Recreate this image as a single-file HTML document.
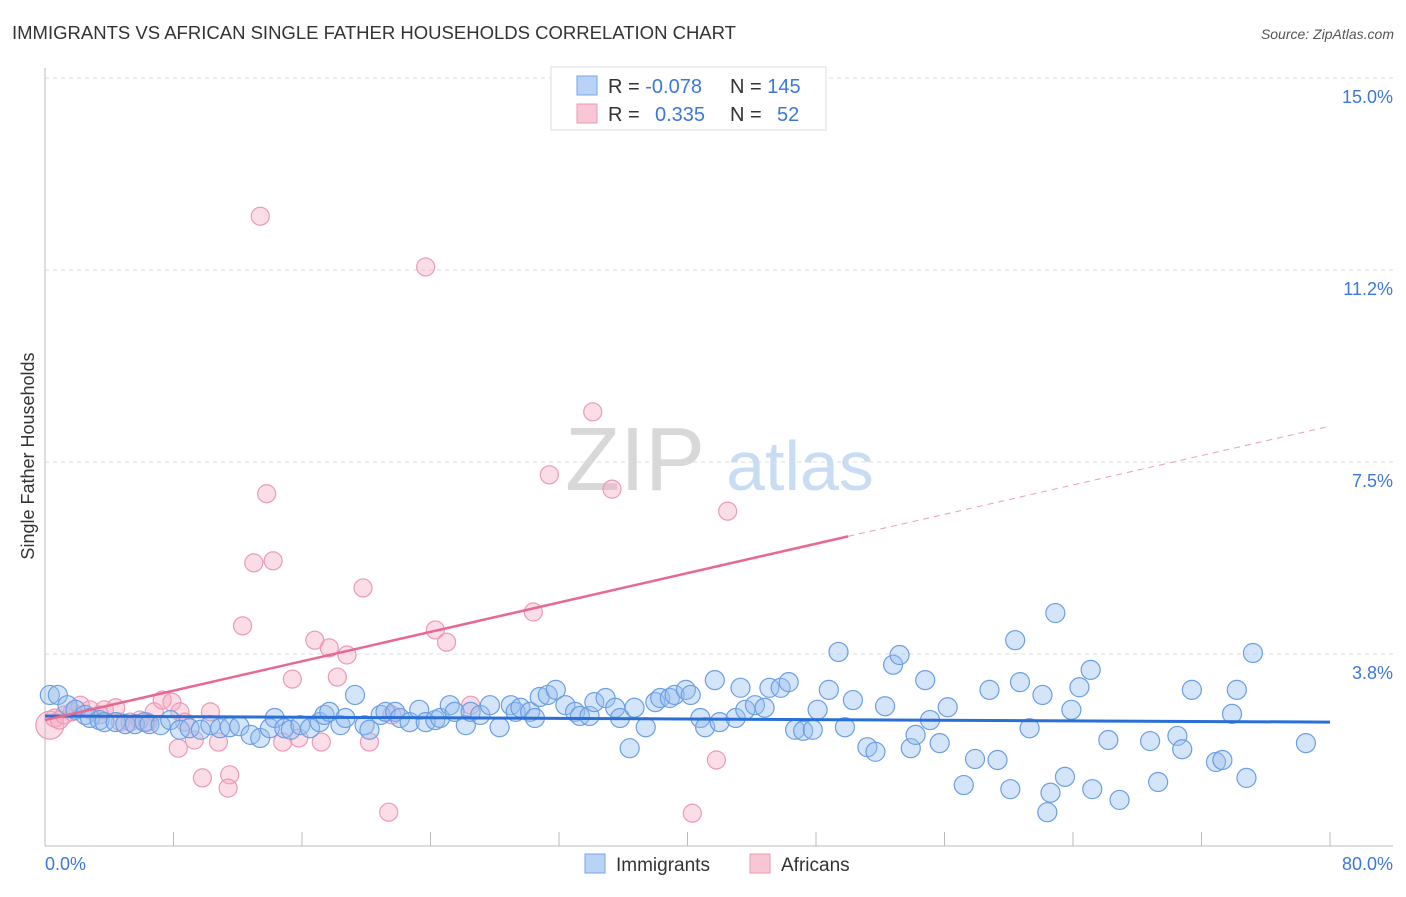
<!DOCTYPE html>
<html><head><meta charset="utf-8"><style>
body{margin:0;background:#fff;font-family:"Liberation Sans",sans-serif}
svg text{font-family:"Liberation Sans",sans-serif}
</style></head><body>
<svg id="chart" width="1406" height="892" xmlns="http://www.w3.org/2000/svg">
<text x="12" y="39" font-size="18" fill="#333" textLength="724" lengthAdjust="spacingAndGlyphs">IMMIGRANTS VS AFRICAN SINGLE FATHER HOUSEHOLDS CORRELATION CHART</text>
<text x="1394" y="39" font-size="14" fill="#555" font-style="italic" text-anchor="end">Source: ZipAtlas.com</text>
<g>
<text x="635" y="490" font-size="90" fill="#d8d8d8" text-anchor="middle" font-family="Liberation Serif">ZIP</text>
<text x="800" y="490" font-size="70" fill="#c8dcf4" text-anchor="middle">atlas</text>
</g>
<g id="grid"></g>
<g id="axes"></g>
<g id="marks"></g>
<text transform="translate(34,456) rotate(-90)" font-size="18" fill="#333" text-anchor="middle">Single Father Households</text>
<text x="45" y="870" font-size="18" fill="#3c78d8">0.0%</text>
<text x="1393" y="870" font-size="18" fill="#3c78d8" text-anchor="end">80.0%</text>
<g>
<rect x="551" y="67" width="275" height="63" fill="#fff" stroke="#ddd"/>
<rect x="577" y="76" width="20" height="19" fill="#b8d3f5" stroke="#7aa6e6"/>
<rect x="577" y="104" width="20" height="19" fill="#f9c6d5" stroke="#ec9ab4"/>
<text x="608" y="93" font-size="20" fill="#333">R = <tspan fill="#3c78d8">-0.078</tspan></text>
<text x="730" y="93" font-size="20" fill="#333">N = <tspan fill="#3c78d8">145</tspan></text>
<text x="608" y="121" font-size="20" fill="#333">R = <tspan fill="#3c78d8" x="655">0.335</tspan></text>
<text x="730" y="121" font-size="20" fill="#333">N = <tspan fill="#3c78d8" x="777">52</tspan></text>
</g>
<g>
<rect x="585" y="854" width="20" height="19" fill="#b8d3f5" stroke="#7aa6e6"/>
<text x="616" y="871" font-size="19" fill="#333">Immigrants</text>
<rect x="750" y="854" width="20" height="19" fill="#f9c6d5" stroke="#ec9ab4"/>
<text x="781" y="871" font-size="19" fill="#333">Africans</text>
</g>
</svg>
<script>
const yTicks=[3.75,7.5,11.25,15];
const yTickLabels=["3.8%","7.5%","11.2%","15.0%"];
const xTicks=[0,8,16,24,32,40,48,56,64,72,80];
const immX=[0.3,0.8,1.4,1.9,2.5,2.8,3.4,3.7,4.4,5.0,5.6,6.2,6.5,7.2,7.8,8.4,9.0,9.7,10.3,10.9,11.5,12.1,12.8,13.4,14.0,14.3,14.9,15.3,15.9,16.5,17.1,17.4,17.7,18.4,18.7,19.3,19.9,20.2,20.9,21.2,21.8,22.1,22.7,23.3,23.7,24.3,24.6,25.2,25.5,26.2,26.5,27.1,27.7,28.3,29.0,29.3,29.6,30.2,30.5,30.8,31.3,31.8,32.4,33.0,33.3,33.9,34.2,34.9,35.5,35.8,36.4,36.7,37.4,38.0,38.3,38.9,39.2,39.9,40.2,40.8,41.1,41.7,42.0,43.0,43.3,43.6,44.2,44.8,45.1,45.8,46.3,46.7,47.2,47.8,48.1,48.8,49.4,49.8,50.3,51.2,51.7,52.3,52.8,53.2,53.9,54.2,54.8,55.1,55.7,56.2,57.2,57.9,58.8,59.3,60.1,60.4,60.7,61.3,62.1,62.6,62.9,63.5,63.9,64.4,65.1,65.2,66.2,66.9,68.8,69.3,70.5,70.8,71.4,72.9,73.3,73.9,74.2,74.8,75.2,78.5,62.4];
const immY=[2.95,2.95,2.75,2.66,2.56,2.5,2.46,2.42,2.42,2.38,2.38,2.42,2.38,2.36,2.46,2.27,2.3,2.27,2.36,2.3,2.32,2.34,2.17,2.11,2.3,2.5,2.3,2.27,2.36,2.3,2.42,2.56,2.62,2.36,2.5,2.95,2.36,2.27,2.56,2.62,2.62,2.5,2.42,2.66,2.42,2.46,2.5,2.75,2.62,2.36,2.62,2.56,2.75,2.32,2.75,2.62,2.7,2.62,2.5,2.91,2.95,3.05,2.75,2.62,2.54,2.54,2.81,2.89,2.7,2.5,1.91,2.7,2.32,2.81,2.89,2.89,2.95,3.05,2.95,2.5,2.32,3.24,2.42,2.5,3.09,2.66,2.75,2.7,3.09,3.09,3.2,2.27,2.25,2.27,2.66,3.05,3.79,2.32,2.85,1.93,1.84,2.73,3.54,3.73,1.91,2.17,3.24,2.46,2.01,2.71,1.19,1.7,3.05,1.68,1.11,4.02,3.2,2.3,2.95,1.04,4.55,1.35,2.66,3.1,3.44,1.11,2.07,0.9,2.05,1.25,2.15,1.89,3.05,1.64,1.68,2.58,3.05,1.33,3.77,2.01,0.66];
const afrX=[0.3,0.6,0.9,1.2,1.7,2.2,2.8,3.4,3.7,4.4,4.7,5.3,5.9,6.4,6.8,7.3,7.9,8.4,8.7,8.3,9.3,9.8,10.3,10.8,11.5,11.4,12.3,13.0,13.4,13.8,14.2,14.8,15.4,15.8,16.8,17.2,17.7,18.2,18.8,19.8,20.2,21.4,21.6,23.7,24.3,25.0,26.5,30.4,31.4,34.1,35.3,40.3,41.8,42.5];
const afrY=[2.36,2.5,2.46,2.56,2.62,2.75,2.66,2.56,2.66,2.7,2.42,2.42,2.46,2.42,2.62,2.85,2.81,2.62,2.42,1.91,2.07,1.33,2.62,2.03,1.39,1.13,4.3,5.53,12.3,6.88,5.57,2.03,3.26,2.11,4.02,2.03,3.87,3.3,3.73,5.04,2.03,0.66,2.56,11.31,4.22,3.98,2.75,4.57,7.25,8.48,6.97,0.64,1.68,6.54];
const immTrend=[2.54,2.42];
const afrTrend=[2.46,8.2];
const afrSolidEnd=50;

const X=v=>45+v*(1285/80);
const Y=v=>846-v*51.2;
const NS="http://www.w3.org/2000/svg";
function mk(tag,attrs,parent){const e=document.createElementNS(NS,tag);for(const k in attrs)e.setAttribute(k,attrs[k]);parent.appendChild(e);return e;}
const grid=document.getElementById('grid'),axes=document.getElementById('axes'),marks=document.getElementById('marks');
yTicks.forEach((t,i)=>{
  const l=mk('line',{x1:45,x2:1393,y1:Y(t),y2:Y(t),stroke:'#ddd','stroke-dasharray':'4,4'},grid);
  
  
  const tx=mk('text',{x:1393,y:Y(t)+25,'font-size':18,fill:'#3c78d8','text-anchor':'end'},grid);
  tx.textContent=yTickLabels[i];
  
  
});
const xa=mk('line',{x1:45,x2:1393,y1:846,y2:846,stroke:'#bbb'},axes);


const ya=mk('line',{x1:45,x2:45,y1:68,y2:846,stroke:'#bbb'},axes);


xTicks.forEach(t=>{
  const l=mk('line',{x1:X(t),x2:X(t),y1:832,y2:846,stroke:'#bbb'},axes);
  
  
});
afrX.forEach((x,i)=>{
  const c=mk('circle',{cx:X(x),cy:Y(afrY[i]),r:i===0?14:9,fill:'rgba(246,170,195,0.4)',stroke:'#ec9ab4','stroke-width':1.2},marks);
  
  
});
immX.forEach((x,i)=>{
  const c=mk('circle',{cx:X(x),cy:Y(immY[i]),r:9.5,fill:'rgba(150,190,240,0.4)',stroke:'#6c9ee3','stroke-width':1.2},marks);
  
  
});
const bt=mk('line',{x1:X(0),y1:Y(immTrend[0]),x2:X(80),y2:Y(immTrend[1]),stroke:'#2a6fd6','stroke-width':3},marks);


const afrAt=x=>afrTrend[0]+(afrTrend[1]-afrTrend[0])*x/80;
const pt=mk('line',{x1:X(0),y1:Y(afrAt(0)),x2:X(afrSolidEnd),y2:Y(afrAt(afrSolidEnd)),stroke:'#e8688f','stroke-width':2.5},marks);


const pd=mk('line',{x1:X(afrSolidEnd),y1:Y(afrAt(afrSolidEnd)),x2:X(80),y2:Y(afrAt(80)),stroke:'#e8a0b6','stroke-width':1,'stroke-dasharray':'6,5'},marks);


</script>
</body></html>
